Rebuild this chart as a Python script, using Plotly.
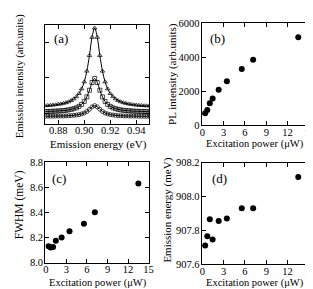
import plotly.graph_objects as go

W, H = 313, 289

# ---- Panel (a): emission spectra ----
energy = [0.870, 0.872, 0.874, 0.876, 0.878, 0.880, 0.882, 0.884, 0.886, 0.888,
          0.890, 0.892, 0.894, 0.896, 0.898, 0.900, 0.902, 0.904, 0.906, 0.908,
          0.910, 0.912, 0.914, 0.916, 0.918, 0.920, 0.922, 0.924, 0.926, 0.928,
          0.930, 0.932, 0.934, 0.936, 0.938, 0.940, 0.942, 0.944, 0.946, 0.948, 0.950]
spec_high = [0.181, 0.183, 0.185, 0.188, 0.191, 0.195, 0.199, 0.205, 0.212, 0.221,
             0.233, 0.250, 0.272, 0.304, 0.351, 0.422, 0.530, 0.688, 0.871, 0.965,
             0.871, 0.688, 0.530, 0.422, 0.351, 0.304, 0.272, 0.250, 0.233, 0.221,
             0.212, 0.205, 0.199, 0.195, 0.191, 0.188, 0.185, 0.183, 0.181, 0.180, 0.179]
spec_mid = [0.122, 0.123, 0.124, 0.125, 0.126, 0.128, 0.130, 0.132, 0.135, 0.139,
            0.144, 0.151, 0.160, 0.174, 0.194, 0.224, 0.270, 0.337, 0.415, 0.455,
            0.415, 0.337, 0.270, 0.224, 0.194, 0.174, 0.160, 0.151, 0.144, 0.139,
            0.135, 0.132, 0.130, 0.128, 0.126, 0.125, 0.124, 0.123, 0.122, 0.121, 0.121]
spec_low = [0.074, 0.075, 0.075, 0.075, 0.076, 0.076, 0.077, 0.077, 0.078, 0.080,
            0.081, 0.084, 0.087, 0.091, 0.098, 0.107, 0.122, 0.144, 0.169, 0.182,
            0.169, 0.144, 0.122, 0.107, 0.098, 0.091, 0.087, 0.084, 0.081, 0.080,
            0.078, 0.077, 0.077, 0.076, 0.076, 0.075, 0.075, 0.075, 0.074, 0.074, 0.074]

# ---- Panels (b)-(d): vs excitation power ----
power = [0.4, 0.7, 1.05, 1.45, 2.3, 3.45, 5.55, 7.15, 13.5]
pl_intensity = [700, 880, 1280, 1570, 2080, 2580, 3300, 3850, 5170]
fwhm = [8.13, 8.12, 8.125, 8.175, 8.20, 8.25, 8.31, 8.40, 8.63]
emission_energy = [907.71, 907.765, 907.865, 907.745, 907.855, 907.87, 907.93, 907.93, 908.115]

FONT = "Liberation Serif, Times New Roman, Times, serif"
fig = go.Figure()

def px_dom_x(a, b):
    return [a / W, b / W]

def px_dom_y(top, bot):
    return [(H - bot) / H, (H - top) / H]

# spectra
for ys, sym in [(spec_high, "triangle-up-open"), (spec_mid, "square-open"), (spec_low, "circle-open")]:
    fig.add_trace(go.Scatter(x=energy, y=ys, mode="markers", xaxis="x", yaxis="y",
                             marker=dict(symbol=sym, size=4, color="black", line=dict(width=0.7, color="black")),
                             showlegend=False))
    fig.add_trace(go.Scatter(x=energy, y=ys, mode="lines", xaxis="x", yaxis="y",
                             line=dict(color="black", width=1, shape="spline"), showlegend=False))

dot = dict(size=6, color="black")
fig.add_trace(go.Scatter(x=power, y=pl_intensity, mode="markers", xaxis="x2", yaxis="y2", marker=dot, showlegend=False))
fig.add_trace(go.Scatter(x=power, y=fwhm, mode="markers", xaxis="x3", yaxis="y3", marker=dot, showlegend=False))
fig.add_trace(go.Scatter(x=power, y=emission_energy, mode="markers", xaxis="x4", yaxis="y4", marker=dot, showlegend=False))

axis_common = dict(showline=True, linecolor="black", linewidth=1, mirror="ticks", ticks="inside",
                   ticklen=4, tickwidth=1, tickcolor="black", showgrid=False, zeroline=False,
                   tickfont=dict(family=FONT, size=10.5, color="black"))
xax = dict(ticklabelstandoff=-3, **axis_common)
yax = dict(ticklabelstandoff=-1, **axis_common)

fig.update_layout(
    width=W, height=H, margin=dict(l=0, r=0, t=0, b=0),
    paper_bgcolor="white", plot_bgcolor="white",
    font=dict(family=FONT, size=11, color="black"),
    xaxis=dict(domain=px_dom_x(36, 142.5), anchor="y", range=[0.87, 0.95],
               tickvals=[0.88, 0.90, 0.92, 0.94], ticktext=["0.88", "0.90", "0.92", "0.94"], **xax),
    yaxis=dict(domain=px_dom_y(12, 115), anchor="x", range=[0, 1.0],
               tickvals=[0.107, 0.461, 0.816], showticklabels=False, **yax),
    xaxis2=dict(domain=px_dom_x(196, 306.5), anchor="y2", range=[-0.1, 15.1], dtick=3, **xax),
    yaxis2=dict(domain=px_dom_y(10.5, 116.5), anchor="x2", range=[0, 6000], dtick=2000, **yax),
    xaxis3=dict(domain=px_dom_x(36, 142.5), anchor="y3", range=[-0.1, 15.1], dtick=3, **xax),
    yaxis3=dict(domain=px_dom_y(155, 259.5), anchor="x3", range=[8.0, 8.8], dtick=0.2, tickformat=".1f", **yax),
    xaxis4=dict(domain=px_dom_x(196, 306.5), anchor="y4", range=[-0.1, 15.1], dtick=3, **xax),
    yaxis4=dict(domain=px_dom_y(155.5, 261), anchor="x4", range=[907.6, 908.2], dtick=0.2, tickformat=".1f", **yax),
)

def ann(text, x, y, size=11, angle=0):
    fig.add_annotation(text=text, x=x / W, y=1 - y / H, xref="paper", yref="paper",
                       showarrow=False, textangle=angle, xanchor="center", yanchor="middle",
                       font=dict(family=FONT, size=size, color="black"))

# panel labels
ann("(a)", 52, 26, 13)
ann("(b)", 212, 26, 13)
ann("(c)", 50, 172, 13)
ann("(d)", 214, 172, 13)
# x titles
ann("Emission energy (eV)", 91, 136.5, 11)
ann("Excitation power (\u03bcW)", 251, 136.5, 10.5)
ann("Excitation power (\u03bcW)", 90, 281, 10.5)
ann("Excitation power (\u03bcW)", 251, 281, 10.5)
# y titles
ann("Emission intensity (arb.units)", 11, 66, 10.5, -90)
ann("PL intensity (arb.units)", 166, 63, 11, -90)
ann("FWHM (meV)", 10, 199, 11.5, -90)
ann("Emission energy (meV)", 161, 205, 11, -90)

fig.write_html("out.html")
